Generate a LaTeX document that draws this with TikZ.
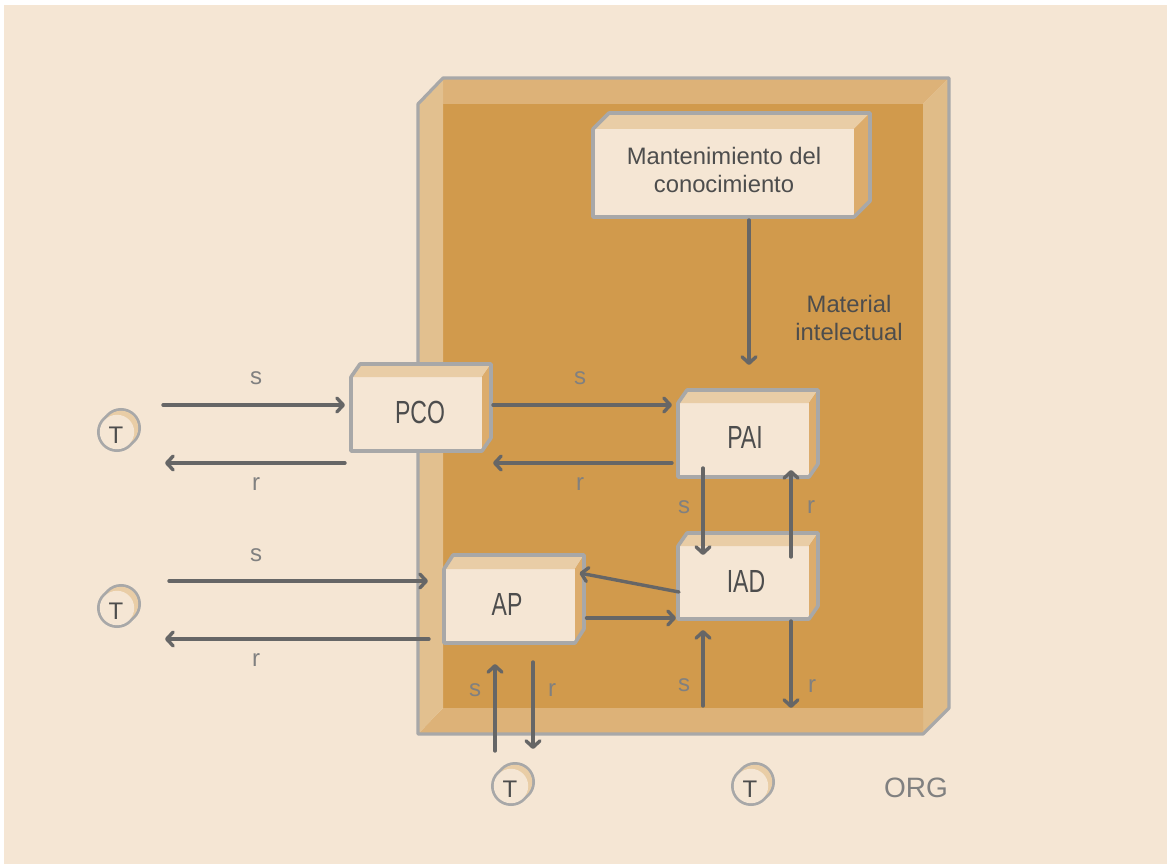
\documentclass[tikz,border=0pt]{standalone}
\usepackage{fontspec}
\setmainfont{Liberation Sans}
\newfontfamily\narrowfont[FakeStretch=0.72]{Liberation Sans}
\usetikzlibrary{arrows.meta,calc}
\definecolor{Paper}{HTML}{F5E6D4}
\definecolor{Ochre}{HTML}{D19A4C}
\definecolor{BandSide}{HTML}{E2C08F}
\definecolor{BandTop}{HTML}{DDB278}
\definecolor{FaceTop}{HTML}{E9CDA6}
\definecolor{FaceSide}{HTML}{DCAC6C}
\definecolor{Rim}{HTML}{A8A8A8}
\definecolor{Wire}{HTML}{666666}
\definecolor{Ink}{HTML}{4D4D4D}
\definecolor{SoftInk}{HTML}{808080}
\tikzset{
  rim/.style={draw=Rim, line width=3.6pt, line join=round},
  boxface/.style={fill=Paper, rectangle, inner sep=0pt, outer sep=0pt},
  boxtext/.style={font=\fontsize{32}{34}\narrowfont, text=Ink, inner sep=0pt},
  wordtext/.style={font=\fontsize{23.8}{28}\selectfont, text=Ink, align=center, inner sep=0pt},
  tag/.style={font=\fontsize{24}{26}\selectfont, text=SoftInk, inner sep=0pt, yshift=-1.5pt},
  person/.style={font=\fontsize{24}{26}\selectfont, text=Ink, inner sep=0pt},
  link/.style={draw=Wire, line width=3.4pt, line cap=round,
    -{Straight Barb[length=6.5pt,width=14pt,line width=3.4pt,round]}},
}

\begin{document}
\begin{tikzpicture}[x=1pt,y=-1pt]
  \useasboundingbox (0,0) rectangle (1167,864);
  \fill[white] (0,0) rectangle (1167,864);
  \fill[Paper] (4,5) rectangle (1167,864);

  % The organisation: a thick open tray.
  \fill[Ochre] (443,104) rectangle (923,708);
  \fill[BandTop] (443,78) -- (949,78) -- (923,104) -- (443,104) -- cycle;
  \fill[BandSide!70!BandTop] (949,78) -- (949,708) -- (923,734) -- (923,104) -- cycle;
  \fill[BandTop] (443,708) -- (923,708) -- (923,734) -- (418,734) -- cycle;
  \fill[BandSide] (418,104) -- (443,78) -- (443,708) -- (418,734) -- cycle;
  \path[rim, line width=3.2pt] (418,104) -- (443,78) -- (949,78) -- (949,708) -- (923,734)
    -- (418,734) -- cycle;

  % Boxes: name/centre/size/depth/text offset/style/text.
  \foreach \name/\cx/\cy/\bw/\bh/\dx/\dy/\tx/\ty/\sty/\lbl in {
    Keep/723.5/173/261/88/16/16/0.5/-3/wordtext/{Mantenimiento del\\conocimiento},
    PCO/416.5/414/131/74/9/13/3.5/-1.3/boxtext/PCO,
    PAI/743.5/440/131/74/9/13/1.5/-2.7/boxtext/PAI,
    IAD/743.5/582.5/131/73/9/13/2.5/-1.5/boxtext/IAD,
    AP/509.5/606/131/74/9/14/-2.5/-2/boxtext/AP} {
    \node[boxface, minimum width=\bw pt, minimum height=\bh pt] (\name) at (\cx,\cy) {};
    \fill[FaceTop] (\name.north west) -- ++(\dx,-\dy)
      -- ($(\name.north east)+(\dx,-\dy)$) -- (\name.north east) -- cycle;
    \fill[FaceSide] (\name.north east) -- ++(\dx,-\dy)
      -- ($(\name.south east)+(\dx,-\dy)$) -- (\name.south east) -- cycle;
    \path[rim] (\name.north west) -- ++(\dx,-\dy)
      -- ($(\name.north east)+(\dx,-\dy)$) -- ($(\name.south east)+(\dx,-\dy)$)
      -- (\name.south east) -- (\name.south west) -- cycle;
    \node[\sty] (\name-t) at ($(\name)+(\tx,\ty)$) {\lbl};
  }

  % People: two offset circles give each one some depth.
  \foreach \name/\cx/\cy in {TopT/117/432, MidT/117/608, LowT/511/786, FarT/751/786} {
    \draw[Rim, line width=3pt] (\cx+4,\cy-4) circle[radius=18.5];
    \draw[Rim, line width=3pt] (\cx,\cy) circle[radius=18.5];
    \fill[FaceTop] (\cx+4,\cy-4) circle[radius=17.2];
    \fill[Paper] (\cx,\cy) circle[radius=17.2];
    \node[person] (\name) at (\cx-1,\cy+3) {T};
  }

  % Left side, towards PCO and AP.
  \coordinate (a1) at (163,405);
  \coordinate (a2) at (165,463);
  \coordinate (a3) at (169,581);
  \coordinate (a4) at (165,639);
  \draw[link] (a1) -- ($(PCO.west)+(-6,-9)$);
  \draw[link] ($(PCO.west)+(-6,49)$) -- (a2);
  \draw[link] (a3) -- ($(AP.west)+(-16,-25)$);
  \draw[link] ($(AP.west)+(-15,33)$) -- (a4);
  \node[tag] (s1) at (256,377) {s};
  \node[tag] (r1) at (256,483) {r};
  \node[tag] (s2) at (256,554) {s};
  \node[tag] (r2) at (256,659) {r};

  % Between the boxes.
  \draw[link] ($(PCO.east)+(11,-9)$) -- ($(PAI.west)+(-6,-35)$);
  \draw[link] ($(PAI.west)+(-6,23)$) -- ($(PCO.east)+(11,49)$);
  \draw[link] ($(PAI.south)+(-40.5,-9)$) -- ($(IAD.north)+(-40.5,9)$);
  \draw[link] ($(IAD.north)+(47.5,11)$) -- ($(PAI.south)+(47.5,-7)$);
  \draw[link] ($(IAD.west)+(1,9.5)$) -- ($(AP.east)+(4.5,-33)$);
  \draw[link] ($(AP.east)+(11.5,12)$) -- ($(IAD.west)+(-2,35.5)$);
  \draw[link] ($(Keep.south)+(25.5,3)$) -- ($(PAI.north)+(5.5,-38)$);
  \node[tag] (s3) at (580,377) {s};
  \node[tag] (r3) at (580,483) {r};
  \node[tag] (s4) at (684,506) {s};
  \node[tag] (r4) at (811,506) {r};

  % Bottom, towards AP and IAD.
  \coordinate (b1) at (495,751);
  \coordinate (b2) at (533,749);
  \coordinate (b3) at (703,706);
  \coordinate (b4) at (791,708);
  \draw[link] (b1) -- ($(b1 |- AP.south)+(0,21)$);
  \draw[link] ($(b2 |- AP.south)+(0,19)$) -- (b2);
  \draw[link] (b3) -- ($(IAD.south)+(-40.5,11)$);
  \draw[link] ($(IAD.south)+(47.5,2)$) -- (b4);
  \node[tag] (s5) at (475,689) {s};
  \node[tag] (r5) at (552,689) {r};
  \node[tag] (s6) at (684,684) {s};
  \node[tag] (r6) at (812,685) {r};

  \node[wordtext] (stuff) at (849,318) {Material\\intelectual};
  \node[font=\fontsize{28}{30}\selectfont, text=SoftInk, inner sep=0pt] (org) at (916,788) {ORG};
\end{tikzpicture}
\end{document}
